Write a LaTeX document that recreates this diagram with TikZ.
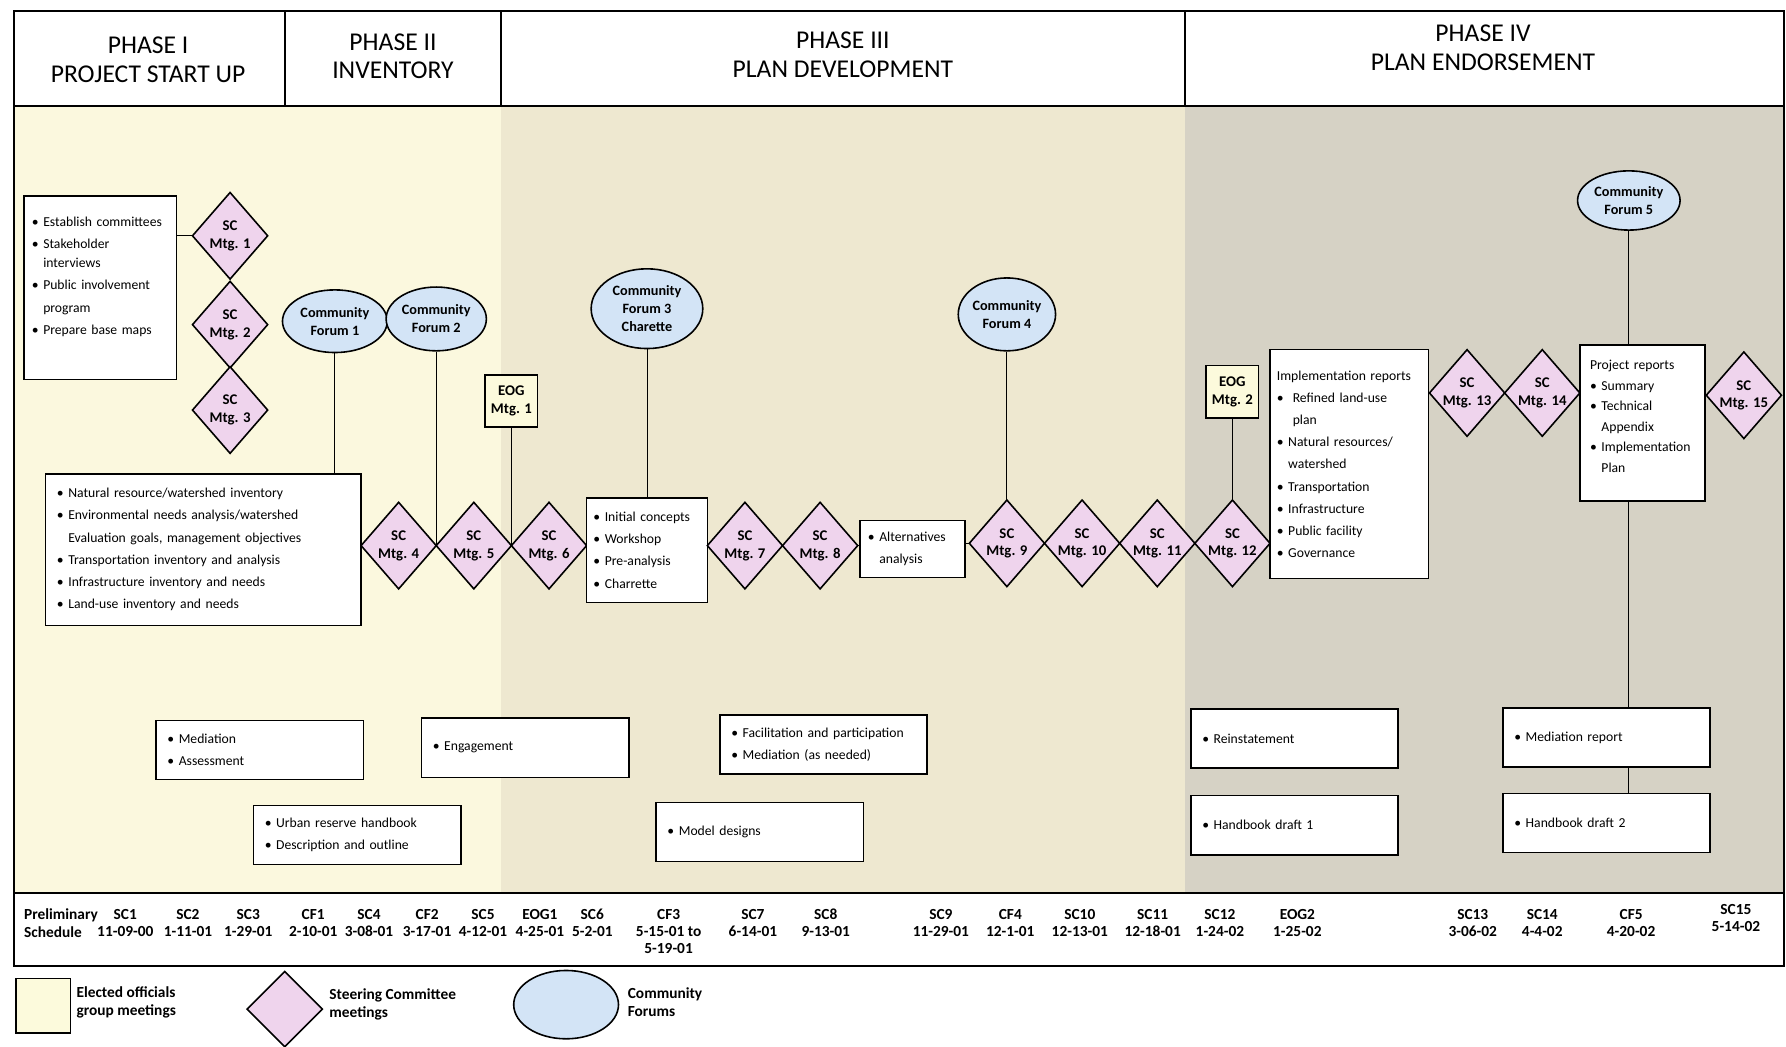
\documentclass[tikz,border=0pt]{standalone}
\usepackage{fontspec}
\setmainfont{Carlito}
\usetikzlibrary{shapes.geometric,positioning}

\definecolor{scpink}{RGB}{239,212,237}
\definecolor{cfblue}{RGB}{211,228,246}
\definecolor{eogyellow}{RGB}{252,250,220}
\definecolor{bgyellow}{RGB}{251,248,222}
\definecolor{bgbeige}{RGB}{238,232,208}
\definecolor{bggray}{RGB}{214,210,197}

\newcommand{\bl}{\textbullet\hspace{4pt}}
\newcommand{\ind}{\hphantom{\textbullet\hspace{4pt}}}

\begin{document}
\begin{tikzpicture}[x=1pt,y=-1pt,
    frame/.style={line width=1.6pt},
    link/.style={line width=0.8pt},
    phase/.style={align=center, font=\fontsize{22.5}{25}\selectfont},
    sc/.style={diamond, draw, line width=1.4pt, fill=scpink, inner sep=-4pt, outer sep=0pt,
      minimum width=66pt, minimum height=76pt, align=center,
      font=\fontsize{13}{15.5}\selectfont\bfseries},
    cf/.style={ellipse, draw, line width=1.4pt, fill=cfblue, inner sep=0pt,
      align=center, font=\fontsize{12.5}{16}\selectfont\bfseries},
    eog/.style={rectangle, draw, line width=1.4pt, fill=eogyellow, inner sep=0pt,
      minimum width=46pt, minimum height=46pt, align=center,
      font=\fontsize{13}{16}\selectfont\bfseries},
    task/.style={rectangle, draw, line width=1.4pt, fill=white, align=left,
      inner xsep=8pt, inner ysep=4pt, font=\fontsize{12}{19.5}\selectfont},
    lowtask/.style={task, inner xsep=10pt, text width=162pt, minimum height=52pt},
    sched/.style={anchor=north, align=center, inner sep=0pt,
      font=\fontsize{13.5}{15}\selectfont\bfseries},
    legtext/.style={anchor=west, align=left, inner sep=0pt,
      font=\fontsize{13.5}{16}\selectfont\bfseries}]

% Page and background
\useasboundingbox (0,0) rectangle (1568,919);
\fill[white] (0,0) rectangle (1568,919);
\fill[bgyellow] (12,93) rectangle (440,784);
\fill[bgbeige] (440,93) rectangle (1040,784);
\fill[bggray] (1040,93) rectangle (1566,784);

% Frame
\draw[frame] (12,10) rectangle (1566,848);
\draw[frame] (12,93) -- (1566,93);
\draw[frame] (12,784) -- (1566,784);
\draw[frame] (250,10) -- (250,93);
\draw[frame] (440,10) -- (440,93);
\draw[frame] (1040,10) -- (1040,93);

% Phase headers
\node[phase] (ph1) at (130,52.5) {PHASE I\\PROJECT START UP};
\node[phase] (ph2) at (345,49.5) {PHASE II\\INVENTORY};
\node[phase] (ph3) at (740,48) {PHASE III\\PLAN DEVELOPMENT};
\node[phase] (ph4) at (1302,42) {PHASE IV\\PLAN ENDORSEMENT};

% Phase I
\node[task, text width=120pt, inner xsep=7pt, text height=23pt, text depth=130pt]
  (startbox) at (88,252.5)
  {\bl Establish committees\\\bl Stakeholder\\[-3pt]\ind interviews\\\bl Public involvement\\\ind program\\\bl Prepare base maps};
\node[sc] (sc1) at (202,207) {SC\\Mtg. 1};
\node[sc] (sc2) at (202,285) {SC\\Mtg. 2};
\node[sc] (sc3) at (202,360) {SC\\Mtg. 3};
\draw[link] (startbox.east |- sc1) -- (sc1.west);

% Phase II
\node[task, text width=257pt, inner xsep=10pt, minimum height=133pt] (invbox) at (178.5,482.5)
  {\bl Natural resource/watershed inventory\\\bl Environmental needs analysis/watershed\\\ind Evaluation goals, management objectives\\\bl Transportation inventory and analysis\\\bl Infrastructure inventory and needs\\\bl Land-use inventory and needs};
\node[cf, minimum width=92pt, minimum height=55pt] (cf1) at (294,282) {Community\\Forum 1};
\node[cf, minimum width=88pt, minimum height=56pt] (cf2) at (383,280) {Community\\Forum 2};
\node[eog] (eog1) at (449,352) {EOG\\Mtg. 1};
\node[sc] (sc4) at (350,479) {SC\\Mtg. 4};
\node[sc, right=0pt of sc4] (sc5) {SC\\Mtg. 5};
\node[sc, right=0pt of sc5] (sc6) {SC\\Mtg. 6};
\draw[link] (invbox.east |- sc4) -- (sc4.west);
\draw[link] (cf1) -- (cf1 |- invbox.north);
\draw[link] (cf2) -- (sc4.east);
\draw[link] (eog1) -- (sc5.east);

% Phase III
\node[task, text width=94pt, inner xsep=6pt, minimum height=92pt] (conceptbox) at (568,483)
  {\bl Initial concepts\\\bl Workshop\\\bl Pre-analysis\\\bl Charrette};
\node[cf, minimum width=98pt, minimum height=70pt] (cf3) at (568,271) {Community\\Forum 3\\Charette};
\node[sc] (sc7) at (654,479) {SC\\Mtg. 7};
\node[sc, right=0pt of sc7] (sc8) {SC\\Mtg. 8};
\node[task, text width=78pt, inner xsep=7pt, minimum height=50pt] (altbox) at (801,482)
  {\bl Alternatives\\\ind analysis};
\node[cf, minimum width=84pt, minimum height=64pt] (cf4) at (884,276) {Community\\Forum 4};
\node[sc] (sc9) at (884,477) {SC\\Mtg. 9};
\node[sc, right=0pt of sc9] (sc10) {SC\\Mtg. 10};
\node[sc, right=0pt of sc10] (sc11) {SC\\Mtg. 11};
\node[sc, right=0pt of sc11] (sc12) {SC\\Mtg. 12};
\node[eog] (eog2) at (1082,344) {EOG\\Mtg. 2};
\draw[link] (sc6.east) -- (sc6.east -| conceptbox.west);
\draw[link] (cf3) -- (conceptbox);
\draw[link] (conceptbox.east |- sc7) -- (sc7.west);
\draw[link] (sc8.east) -- (sc8.east -| altbox.west);
\draw[link] (altbox.east |- sc9) -- (sc9.west);
\draw[link] (cf4) -- (sc9);
\draw[link] (eog2) -- (sc12);

% Phase IV
\node[task, text width=127pt, inner xsep=6pt, minimum height=201pt] (implbox) at (1184.5,407.5)
  {Implementation reports\\\bl\ Refined land-use\\\ind\ plan\\\bl Natural resources/\\\ind watershed\\\bl Transportation\\\bl Infrastructure\\\bl Public facility\\\bl Governance};
\node[sc] (sc13) at (1288,345) {SC\\Mtg. 13};
\node[sc, right=0pt of sc13] (sc14) {SC\\Mtg. 14};
\node[task, text width=92pt, inner xsep=9pt, text height=17.5pt, text depth=111.5pt,
  font=\fontsize{12}{18}\selectfont] (projbox) at (1442,371.5)
  {Project reports\\\bl Summary\\\bl Technical\\\ind Appendix\\\bl Implementation\\\ind Plan};
\node[sc] (sc15) at (1531,347) {SC\\Mtg. 15};
\node[cf, minimum width=90pt, minimum height=52pt] (cf5) at (1430,176) {Community\\Forum 5};
\draw[link] (sc12.east) -- (sc12.east -| implbox.west);
\draw[link] (implbox.east |- sc13) -- (sc13.west);
\draw[link] (sc14.east) -- (sc14.east -| projbox.west);
\draw[link] (projbox.east |- sc15) -- (sc15.west);

% Lower tasks
\node[lowtask] (medbox) at (228,658.5) {\bl Mediation\\\bl Assessment};
\node[lowtask] (engbox) at (461,656.5) {\bl Engagement};
\node[lowtask] (facbox) at (723,653.5) {\bl Facilitation and participation\\\bl Mediation (as needed)};
\node[lowtask] (urbbox) at (313.5,733) {\bl Urban reserve handbook\\\bl Description and outline};
\node[lowtask] (modbox) at (667,730.5) {\bl Model designs};
\node[lowtask] (reinbox) at (1136.5,648.5) {\bl Reinstatement};
\node[lowtask] (hb1box) at (1136.5,724.5) {\bl Handbook draft 1};
\node[lowtask] (medrepbox) at (1410.5,647.5) {\bl Mediation report};
\node[lowtask] (hb2box) at (1410.5,722.5) {\bl Handbook draft 2};
\draw[link] (cf5) -- (cf5 |- projbox.north);
\draw[link] (cf5 |- projbox.south) -- (cf5 |- medrepbox.north);
\draw[link] (cf5 |- medrepbox.south) -- (cf5 |- hb2box.north);

% Preliminary schedule
\node[sched, anchor=north west, align=left] (pre) at (21,798) {Preliminary\\Schedule};
\node[sched] (d-sc1) at (110,798) {SC1\\11-09-00};
\node[sched] (d-sc2) at (165,798) {SC2\\1-11-01};
\node[sched] (d-sc3) at (218,798) {SC3\\1-29-01};
\node[sched] (d-cf1) at (275,798) {CF1\\2-10-01};
\node[sched] (d-sc4) at (324,798) {SC4\\3-08-01};
\node[sched] (d-cf2) at (375,798) {CF2\\3-17-01};
\node[sched] (d-sc5) at (424,798) {SC5\\4-12-01};
\node[sched] (d-eog1) at (474,798) {EOG1\\4-25-01};
\node[sched] (d-sc6) at (520,798) {SC6\\5-2-01};
\node[sched] (d-cf3) at (587,798) {CF3\\5-15-01 to\\5-19-01};
\node[sched] (d-sc7) at (661,798) {SC7\\6-14-01};
\node[sched] (d-sc8) at (725,798) {SC8\\9-13-01};
\node[sched] (d-sc9) at (826,798) {SC9\\11-29-01};
\node[sched] (d-cf4) at (887,798) {CF4\\12-1-01};
\node[sched] (d-sc10) at (948,798) {SC10\\12-13-01};
\node[sched] (d-sc11) at (1012,798) {SC11\\12-18-01};
\node[sched] (d-sc12) at (1071,798) {SC12\\1-24-02};
\node[sched] (d-eog2) at (1139,798) {EOG2\\1-25-02};
\node[sched] (d-sc13) at (1293,798) {SC13\\3-06-02};
\node[sched] (d-sc14) at (1354,798) {SC14\\4-4-02};
\node[sched] (d-cf5) at (1432,798) {CF5\\4-20-02};
\node[sched] (d-sc15) at (1524,794) {SC15\\5-14-02};

% Legend
\node[eog, minimum width=48pt, minimum height=48pt] (legeog) at (38,883) {};
\node[legtext] (legeogtxt) at (67,880) {Elected officials\\group meetings};
\node[sc, minimum height=66pt] (legsc) at (250,886) {};
\node[legtext] (legsctxt) at (289,882) {Steering Committee\\meetings};
\node[cf, minimum width=92pt, minimum height=60pt] (legcf) at (497,882) {};
\node[legtext] (legcftxt) at (551,880) {Community\\Forums};
\end{tikzpicture}
\end{document}
